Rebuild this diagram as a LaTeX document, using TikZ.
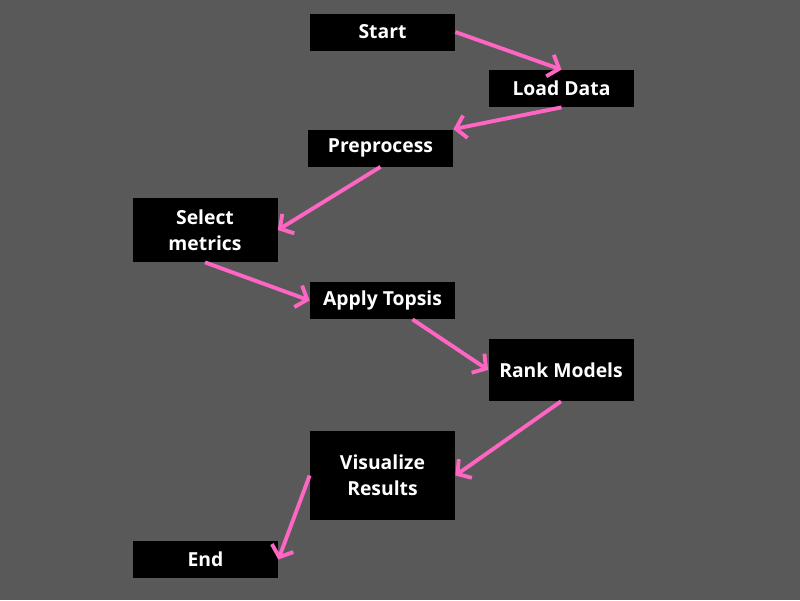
\documentclass[tikz,border=0pt]{standalone}
\usepackage{fontspec}
\setmainfont{Open Sans}
\usetikzlibrary{arrows.meta}
\definecolor{bggray}{HTML}{595959}
\definecolor{flowpink}{HTML}{FF66C4}
\tikzset{
	stepbox/.style={fill=black, text=white, font=\bfseries\fontsize{11}{15}\selectfont, align=center, minimum width=2.9cm, minimum height=0.74cm, inner sep=2pt},
	flow/.style={draw=flowpink, line width=2.2pt, -{Straight Barb[length=5.5pt,width=13pt]}}
}
\begin{document}
\begin{tikzpicture}
		
		\fill[bggray] (0,0) rectangle (16,-12);
		
		\node[stepbox] (start) at (7.65,-0.64) {Start};
		\node[stepbox] (load) at (11.23,-1.77) {Load Data};
		\node[stepbox] (prep) at (7.61,-2.96) {Preprocess};
		\node[stepbox, minimum height=1.28cm] (select) at (4.1,-4.6) {Select\\metrics};
		\node[stepbox] (apply) at (7.65,-6.01) {Apply Topsis};
		\node[stepbox, minimum height=1.24cm] (rank) at (11.22,-7.4) {Rank Models};
		\node[stepbox, minimum height=1.78cm] (visual) at (7.65,-9.51) {Visualize\\Results};
		\node[stepbox] (stop) at (4.11,-11.19) {End};
		
		\draw[flow] (start.east) -- (load.north);
		\draw[flow] (load.south) -- (prep.north east);
		\draw[flow] (prep.south) -- (select.east);
		\draw[flow] (select.south) -- (apply.west);
		\draw[flow] ([xshift=0.6cm]apply.south) -- (rank.west);
		\draw[flow] (rank.south) -- (visual.east);
		\draw[flow] (visual.west) -- (stop.east);
		\end{tikzpicture}
\end{document}
